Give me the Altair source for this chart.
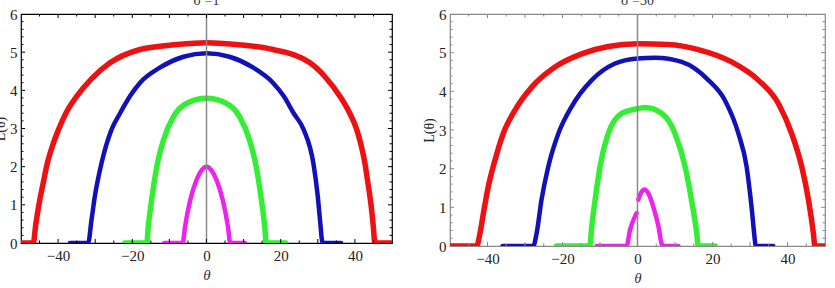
import altair as alt
import pandas as pd

# ---- sigma = 1 ----
s1_red_theta = [-50, -46.7, -46.0, -45.1, -44.0, -42.9, -41.5, -39.9, -37.8, -35.0, -31.0, -26.0, -17.9, -8.0, 0,
                8.0, 17.9, 27.9, 32.0, 36.0, 38.5, 40.5, 41.7, 42.7, 43.5, 44.3, 44.9, 45.4, 50]
s1_red_L = [0, 0, 0.5, 1.04, 1.58, 2.09, 2.55, 2.97, 3.42, 3.84, 4.3, 4.72, 5.07, 5.2, 5.25,
            5.2, 5.07, 4.72, 4.35, 3.84, 3.42, 2.97, 2.55, 2.09, 1.58, 1.04, 0.5, 0, 0]

s1_blue_theta = [-36.8, -31.9, -31.0, -30.1, -28.3, -25.6, -23.3, -20.6, -17.9, -12.5, -6.2, 0,
                 6.2, 12.5, 17.9, 20.8, 23.5, 26.2, 28.8, 30.0, 30.6, 31.3, 36.3]
s1_blue_L = [0, 0, 0.6, 1.22, 2.09, 2.97, 3.4, 3.85, 4.2, 4.6, 4.88, 4.97,
             4.88, 4.6, 4.2, 3.85, 3.4, 2.97, 2.09, 1.22, 0.6, 0, 0]

s1_green_theta = [-22.0, -16.1, -15.7, -14.8, -13.4, -11.6, -8.9, -5.3, 0, 5.3, 8.9, 11.6, 13.4, 14.8, 15.7, 16.1, 21.3]
s1_green_L = [0, 0, 0.42, 1.12, 2.0, 2.7, 3.31, 3.66, 3.79, 3.66, 3.31, 2.7, 2.0, 1.12, 0.42, 0, 0]

s1_mag_theta = [-11.4, -6.4, -5.8, -4.4, -2.7, -1.3, 0, 1.3, 2.7, 4.4, 5.8, 6.4, 10.4]
s1_mag_L = [0, 0, 0.42, 1.12, 1.65, 1.91, 2.0, 1.91, 1.65, 1.12, 0.42, 0, 0]

# ---- sigma = 30 ----
s30_red_theta = [-50, -42.9, -42.0, -41.1, -39.8, -38.0, -35.8, -32.7, -28.2, -22.0, -14.9, -7.8, 0,
                 8.2, 16.2, 25.1, 32.2, 37.6, 41.1, 43.8, 45.6, 46.9, 47.3, 50]
s30_red_L = [0, 0, 0.33, 0.84, 1.53, 2.22, 2.91, 3.51, 4.11, 4.63, 4.97, 5.16, 5.23,
             5.21, 5.08, 4.76, 4.29, 3.68, 2.91, 2.05, 1.19, 0.33, 0, 0]

s30_blue_theta = [-36.0, -27.8, -26.9, -25.6, -23.8, -21.1, -17.6, -12.2, -6.0, 0,
                  4.7, 11.8, 18.9, 23.3, 26.9, 29.1, 30.4, 31.3, 31.5, 36.2]
s30_blue_L = [0, 0, 0.33, 1.19, 2.05, 2.91, 3.6, 4.29, 4.72, 4.85,
              4.87, 4.76, 4.29, 3.77, 2.91, 2.05, 1.02, 0.15, 0, 0]

s30_green_theta = [-21.6, -12.7, -12.2, -11.3, -10.0, -7.8, -4.2, 0, 2.0, 6.4, 10.0, 12.7, 14.4, 15.8, 16.2, 20.7]
s30_green_L = [0, 0, 0.5, 1.19, 2.05, 2.91, 3.43, 3.55, 3.58, 3.43, 2.91, 2.05, 1.19, 0.33, 0, 0]

# the magenta curve jumps at theta = 0, so it is kept as two pieces
s30_mag_a_theta = [-10.9, -2.9, -2.0, -0.7, -0.2]
s30_mag_a_L = [0, 0, 0.41, 0.76, 0.85]
s30_mag_b_theta = [0.2, 1.1, 1.8, 2.9, 4.2, 5.6, 6.4, 6.8, 10.9]
s30_mag_b_L = [1.2, 1.4, 1.46, 1.36, 1.02, 0.5, 0.07, 0, 0]

# frame ticks
x_major = [-40, -30, -20, -10, 0, 10, 20, 30, 40]
x_minor = [-45, -35, -25, -15, -5, 5, 15, 25, 35, 45]
y_major = [1, 2, 3, 4, 5]
y_minor = [round(0.2 * i, 1) for i in range(1, 30) if i % 5 != 0]

SERIES = ["red", "blue", "green", "magenta"]
COLORS = ["#ee1111", "#1111b8", "#33ee33", "#ee22ee"]
WIDTHS = {"red": 5.5, "blue": 4.5, "green": 5.5, "magenta": 4.5}


def frame(curves):
    rows = []
    for series, seg, th, L in curves:
        for t, v in zip(th, L):
            rows.append({"theta": t, "L": v, "series": series, "seg": seg})
    return pd.DataFrame(rows)


df1 = frame([
    ("red", "a", s1_red_theta, s1_red_L),
    ("blue", "a", s1_blue_theta, s1_blue_L),
    ("green", "a", s1_green_theta, s1_green_L),
    ("magenta", "a", s1_mag_theta, s1_mag_L),
])
df30 = frame([
    ("red", "a", s30_red_theta, s30_red_L),
    ("blue", "a", s30_blue_theta, s30_blue_L),
    ("green", "a", s30_green_theta, s30_green_L),
    ("magenta", "a", s30_mag_a_theta, s30_mag_a_L),
    ("magenta", "b", s30_mag_b_theta, s30_mag_b_L),
])

FONT = "Liberation Serif"


def panel(df, title, W, H, frame_color):
    xs = alt.Scale(domain=[-50, 50], nice=False, zero=False)
    ys = alt.Scale(domain=[0, 6], nice=False)
    x_axis = alt.Axis(values=[-40, -20, 0, 20, 40], ticks=False, domain=False, grid=False,
                      labelFont=FONT, labelFontSize=15, labelColor="#222", labelPadding=5,
                      labelOverlap=False,
                      title="θ", titleFont=FONT, titleFontSize=15, titleFontStyle="italic",
                      titleFontWeight="normal", titleColor="#333", titlePadding=4)
    y_axis = alt.Axis(values=[0, 1, 2, 3, 4, 5, 6], ticks=False, domain=False, grid=False,
                      labelFont=FONT, labelFontSize=15, labelColor="#222", labelPadding=4,
                      labelOverlap=False,
                      title="L(θ)", titleFont=FONT, titleFontSize=14, titleFontWeight="normal",
                      titleColor="#222", titlePadding=2)
    X = lambda: alt.X("theta:Q", scale=xs, axis=x_axis)
    Y = lambda: alt.Y("L:Q", scale=ys, axis=y_axis)

    layers = []
    for series in SERIES:
        sub = df[df.series == series]
        layers.append(
            alt.Chart(sub).mark_line(strokeWidth=WIDTHS[series], interpolate="monotone",
                                     strokeCap="round", strokeJoin="round", clip=True)
            .encode(x=X(), y=Y(), detail="seg:N",
                    color=alt.Color("series:N", scale=alt.Scale(domain=SERIES, range=COLORS), legend=None))
        )

    # vertical reference line at theta = 0
    zero_line = alt.Chart(pd.DataFrame({"theta": [0]})).mark_rule(color="#888", strokeWidth=1.5).encode(
        x=X(), y=alt.value(0), y2=alt.value(H))

    # inward frame ticks
    def xticks(vals, length):
        base = alt.Chart(pd.DataFrame({"theta": vals})).mark_rule(color=frame_color, strokeWidth=1)
        return [base.encode(x=X(), y=alt.value(H), y2=alt.value(H - length)),
                base.encode(x=X(), y=alt.value(0), y2=alt.value(length))]

    def yticks(vals, length):
        base = alt.Chart(pd.DataFrame({"L": vals})).mark_rule(color=frame_color, strokeWidth=1)
        return [base.encode(y=Y(), x=alt.value(0), x2=alt.value(length)),
                base.encode(y=Y(), x=alt.value(W), x2=alt.value(W - length))]

    ticks = xticks(x_major, 4) + xticks(x_minor, 2.5) + yticks(y_major, 4) + yticks(y_minor, 2.5)

    heading = alt.Chart(pd.DataFrame({"t": [title]})).mark_text(
        font=FONT, fontSize=14, color="#333", baseline="alphabetic", align="center"
    ).encode(text="t:N", x=alt.value(W / 2), y=alt.value(-9))

    return alt.layer(*layers, zero_line, *ticks, heading).properties(
        width=W, height=H, view=alt.ViewBackground(stroke=frame_color, strokeWidth=1.2))


left = panel(df1, "σ =1", 371, 229, "#000")
right = panel(df30, "σ =30", 375, 232, "#888")

chart = alt.hconcat(left, right, spacing=58, bounds="flush").properties(
    autosize=alt.AutoSizeParams(type="none"),
    padding={"left": 21, "top": 14, "right": 814, "bottom": 274},
)

chart.save("out.html", embed_options={"renderer": "svg", "actions": False})
